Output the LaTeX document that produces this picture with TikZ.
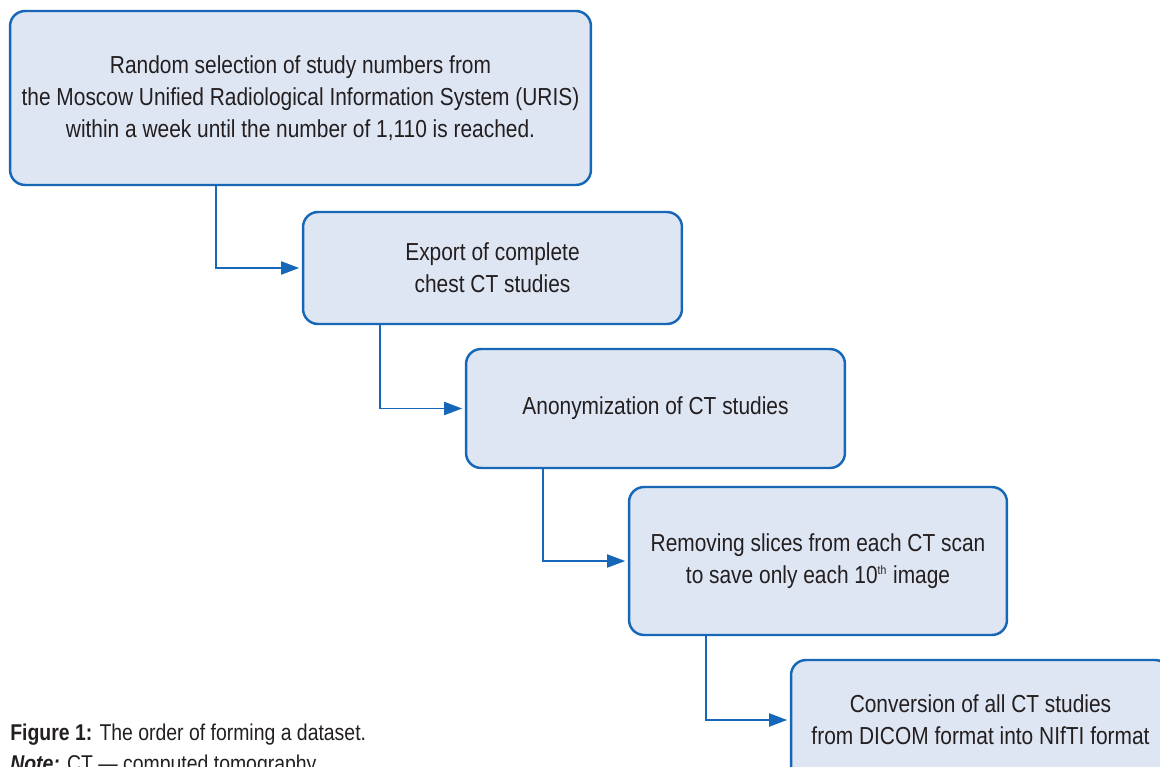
\documentclass[tikz,border=0pt]{standalone}
\usepackage{fontspec}
\setmainfont{Liberation Sans}[FakeStretch=0.85]
\usepackage{tikz}
\usetikzlibrary{arrows.meta}

\definecolor{stepblue}{HTML}{1667B7}
\definecolor{stepfill}{HTML}{DFE6F3}
\definecolor{steptext}{HTML}{231F20}

\begin{document}
\begin{tikzpicture}[x=0.02cm,y=-0.02cm,
  stepbox/.style={draw=stepblue, fill=stepfill, line width=1.4pt, rounded corners=0.3cm,
    align=center, text=steptext, font=\fontsize{14}{18.2}\selectfont, inner sep=0pt},
  flow/.style={draw=stepblue, line width=1.1pt, -{Triangle[length=0.36cm,width=0.26cm]}, shorten >=1.5pt}]

%% Frame
\useasboundingbox (0,0) rectangle (1160,767);

%% Steps
\node[stepbox, minimum width=11.62cm, minimum height=3.48cm] (select) at (300.5,98)
  {Random selection of study numbers from\\the Moscow Unified Radiological Information System (URIS)\\within a week until the number of 1,110 is reached.};
\node[stepbox, minimum width=7.58cm, minimum height=2.24cm] (export) at (492.5,268)
  {Export of complete\\chest CT studies};
\node[stepbox, minimum width=7.58cm, minimum height=2.38cm] (anon) at (655.5,408.5)
  {Anonymization of CT studies};
\node[stepbox, minimum width=7.56cm, minimum height=2.96cm] (remove) at (818,561)
  {Removing slices from each CT scan\\to save only each 10\textsuperscript{\scriptsize th} image};
\node[stepbox, minimum width=7.58cm, minimum height=2.4cm] (convert) at (980.5,720)
  {Conversion of all CT studies\\from DICOM format into NIfTI format};

%% Connectors
\draw[flow] ([xshift=4.14cm]select.south west) |- (export.west);
\draw[flow] ([xshift=1.56cm]export.south west) |- (anon.west);
\draw[flow] ([xshift=1.56cm]anon.south west) |- (remove.west);
\draw[flow] ([xshift=1.56cm]remove.south west) |- (convert.west);

%% Caption
\node[anchor=base west, inner sep=0pt, text=steptext, font=\fontsize{13}{15}\selectfont] (caption) at (10,740)
  {\textbf{Figure 1:} The order of forming a dataset.};
\node[anchor=base west, inner sep=0pt, text=steptext, font=\fontsize{13}{15}\selectfont] (note) at (10,771)
  {\textbf{\textit{Note:}} CT --- computed tomography.};
\end{tikzpicture}
\end{document}
